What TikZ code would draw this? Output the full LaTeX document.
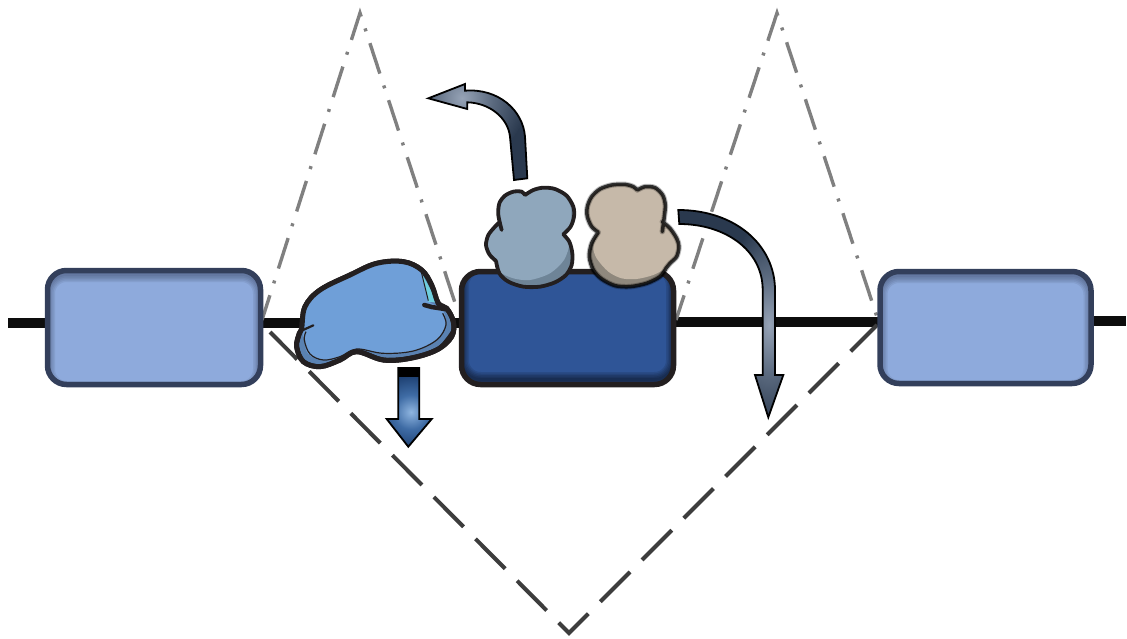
\documentclass[tikz,border=0pt]{standalone}
\usetikzlibrary{calc}
\definecolor{gbA}{HTML}{8FB5E0}
\definecolor{gbB}{HTML}{3F6CA5}
\definecolor{gbC}{HTML}{1F4274}
\definecolor{ggA}{HTML}{96A3B6}
\definecolor{ggB}{HTML}{5A697E}
\definecolor{ggC}{HTML}{2A394E}
\pgfdeclareradialshading{glowblue}{\pgfpoint{0bp}{0bp}}{color(0bp)=(gbA); color(12bp)=(gbB); color(25bp)=(gbC); color(50bp)=(gbC)}
\pgfdeclareradialshading{glowgrey}{\pgfpoint{0bp}{0bp}}{color(0bp)=(ggA); color(12bp)=(ggB); color(25bp)=(ggC); color(50bp)=(ggC)}
\definecolor{ink}{HTML}{231F20}
\definecolor{lightbox}{HTML}{8EAADC}
\definecolor{lightedge}{HTML}{333F5B}
\definecolor{darkbox}{HTML}{2F5597}
\definecolor{blobtop}{HTML}{6F9FD8}
\definecolor{blobunder}{HTML}{5A82B2}
\definecolor{cyanwedge}{HTML}{6FCFDD}
\definecolor{slate}{HTML}{8FA7BC}
\definecolor{slateunder}{HTML}{6E8497}
\definecolor{beige}{HTML}{C6B9A9}
\definecolor{beigeunder}{HTML}{8F887D}
\tikzset{
  genebox/.style n args={4}{draw=#1,fill=#2,line width=5.5pt,rounded corners=19pt,inner sep=0pt,
    minimum width=#3,minimum height=#4},
  glow/.style 2 args={path picture={
    \foreach \w in {3,6,9,12,15}{
      \draw[#1,opacity=.11,line width=\w pt,rounded corners=19pt]
        ([yshift=#2]path picture bounding box.south west) rectangle
        ([yshift=#2]path picture bounding box.north east);}}},
  strand/.style={line width=10pt,black!95},
  loopline/.style={line width=3.4pt,black!50,dash pattern=on 32pt off 12.5pt on 3pt off 12.5pt,dash phase=6pt},
  spliceline/.style={line width=4pt,black!76,dash pattern=on 42pt off 17pt,dash phase=3.4pt},
  blobline/.style={draw=ink,line width=5pt,line join=round},
  arrowline/.style={draw=black,line width=1.8pt,line join=miter}
}
\begin{document}
\begin{tikzpicture}[x=1pt,y=-1pt]
\useasboundingbox (0,0) rectangle (1127,638);
% anchor points
\coordinate (lstart) at (8,323);
\coordinate (lbe) at (262,323);
\coordinate (cbw) at (459,323);
\coordinate (cbe) at (676,322);
\coordinate (rbw) at (878,322);
\coordinate (rbe) at (1093,321);
\coordinate (rend) at (1126,321);
\coordinate (lbw) at (45,323);
\coordinate (peakA) at (360,13);
\coordinate (peakB) at (777,13);
\coordinate (vee) at (569,633);
\coordinate (a1) at (262,320);
\coordinate (a2) at (458,312);
\coordinate (b1) at (676,320);
\coordinate (b2) at (878,320);
\coordinate (v1) at (270,332);
\coordinate (v2) at (877,325);
% strand
\draw[strand] (lstart) -- (lbw);
\draw[strand] (lbe) -- (cbw);
\draw[strand] (cbe) -- (rbw);
\draw[strand] (rbe) -- (rend);
% splice lines
\draw[loopline] (a1) -- (peakA) -- (a2);
\draw[loopline] (b1) -- (peakB) -- (b2);
\draw[spliceline] (v1) -- (vee) -- (v2);
% boxes
\node[genebox={lightedge}{lightbox}{213pt}{114pt},glow={lightedge}{-4pt}] (leftbox) at (154,327.5) {};
\node[genebox={lightedge}{lightbox}{211pt}{112pt},glow={lightedge}{-4pt}] (rightbox) at (985.5,327.5) {};
\node[genebox={ink}{darkbox}{212pt}{113pt},glow={black}{5pt}] (centerbox) at (567.5,328) {};
% left blob
\begin{scope}[shift={(290,250)},x=0.3333pt,y=-0.3333pt]
\draw[blobline,fill=blobunder] plot[smooth cycle,tension=.6] coordinates {(35,235) (45,170) (90,120) (180,75) (260,40) (340,35) (395,60) (425,105) (445,160) (470,175) (490,215) (485,260) (440,300) (360,325) (280,330) (200,305) (150,330) (90,350) (40,335) (20,290) (28,250)};
\fill[blobtop] plot[smooth cycle,tension=.6] coordinates {(38,235) (48,172) (92,124) (182,79) (260,44) (338,39) (392,62) (415,150) (455,175) (467,220) (440,270) (370,305) (280,312) (200,297) (150,322) (100,332) (55,312) (42,270)};
\fill[cyanwedge] (394,68) -- (443,158) -- (415,155) -- cycle;
\draw[ink,line width=1pt] (394,66) -- (415,152);
\draw[ink,line width=1.2pt] plot[smooth,tension=.6] coordinates {(458,190) (468,225) (440,270) (370,303) (280,310) (200,297) (150,320) (100,330) (60,312) (43,270) (48,245)};
\draw[ink,line width=4.5pt,line cap=round] (403,165) -- (425,171) -- (470,178);
\draw[ink,line width=2.2pt,line cap=round] (35,242) -- (70,226);
\draw[blobline,fill=none] plot[smooth cycle,tension=.6] coordinates {(35,235) (45,170) (90,120) (180,75) (260,40) (340,35) (395,60) (425,105) (445,160) (470,175) (490,215) (485,260) (440,300) (360,325) (280,330) (200,305) (150,330) (90,350) (40,335) (20,290) (28,250)};
\draw[ink,line width=2.5pt,line cap=round] plot[smooth,tension=.6] coordinates {(486,245) (440,298) (360,323) (280,328)};
\end{scope}
% slate protein
\begin{scope}[shift={(480,175)},x=0.3333pt,y=-0.3333pt]
\path[fill=slateunder] plot[smooth] coordinates {(135,60) (160,45) (190,38) (225,42) (260,62) (280,95) (282,125) (272,155) (250,178)} -- plot[smooth] coordinates {(250,178) (268,200) (277,235) (275,270) (258,300) (225,322) (180,335) (130,335) (85,320) (58,295) (48,258)} -- plot[smooth] coordinates {(48,258) (28,238) (18,210) (25,180) (45,155) (60,140)} -- plot[smooth] coordinates {(65,165) (55,120) (58,85) (75,62) (100,50) (125,50) (135,60)} -- cycle;
\path[fill=slate] plot[smooth] coordinates {(135,60) (160,47) (190,42) (225,46) (255,66) (272,95) (274,125) (268,155) (250,178)} -- plot[smooth] coordinates {(250,178) (268,205) (252,255) (210,295) (150,315) (100,310) (58,290) (48,258)} -- plot[smooth] coordinates {(48,258) (28,238) (18,210) (25,180) (45,155) (60,140)} -- plot[smooth] coordinates {(65,165) (55,120) (58,85) (75,62) (100,50) (125,50) (135,60)} -- cycle;
\draw[draw=ink,line width=3.8pt,line cap=round] plot[smooth] coordinates {(135,60) (160,45) (190,38) (225,42) (260,62) (280,95) (282,125) (272,155) (250,178)} plot[smooth] coordinates {(250,178) (268,200) (277,235) (275,270) (258,300) (225,322) (180,335) (130,335) (85,320) (58,295) (48,258)} plot[smooth] coordinates {(48,258) (28,238) (18,210) (25,180) (45,155) (60,140)} plot[smooth] coordinates {(65,165) (55,120) (58,85) (75,62) (100,50) (125,50) (135,60)};
\end{scope}
% beige protein
\begin{scope}[shift={(480,175)},x=0.3333pt,y=-0.3333pt]
\path[fill=beigeunder] plot[smooth] coordinates {(355,172) (335,155) (322,125) (322,95) (335,65) (360,42) (395,30) (435,28) (460,35) (472,45)} -- plot[smooth] coordinates {(472,45) (495,35) (525,38) (548,60) (556,90) (553,125) (547,155)} -- plot[smooth] coordinates {(547,140) (570,160) (590,190) (597,215) (590,245) (570,265) (558,280)} -- plot[smooth] coordinates {(558,280) (540,305) (500,325) (450,335) (405,332) (365,312) (340,285) (328,245) (335,205) (355,172)} -- cycle;
\path[fill=beige] plot[smooth] coordinates {(355,172) (335,155) (322,125) (322,95) (335,65) (360,42) (395,30) (435,28) (460,35) (472,45)} -- plot[smooth] coordinates {(472,45) (495,35) (525,38) (548,60) (556,90) (553,125) (547,155)} -- plot[smooth] coordinates {(547,140) (570,160) (590,190) (597,215) (590,245) (570,265) (558,280)} -- plot[smooth] coordinates {(558,280) (520,300) (470,312) (425,310) (385,290) (350,250) (340,215) (355,172)} -- cycle;
\foreach \lw/\col/\op in {5.5pt/black/.25,3.5pt/black/.75}{
\draw[draw=\col,opacity=\op,line width=\lw,line cap=round] plot[smooth] coordinates {(355,172) (335,155) (322,125) (322,95) (335,65) (360,42) (395,30) (435,28) (460,35) (472,45)} plot[smooth] coordinates {(472,45) (495,35) (525,38) (548,60) (556,90) (553,125) (547,170)} plot[smooth] coordinates {(547,140) (570,160) (590,190) (597,215) (590,245) (570,265) (558,280)} plot[smooth] coordinates {(558,280) (540,305) (500,325) (450,335) (405,332) (365,312) (340,285) (328,245) (335,205) (355,172)};
}
\end{scope}
% down arrow
\begin{scope}
\clip (398.3,368) -- (419.3,368) -- (419.3,419) -- (431.7,419) -- (408.3,446.7) -- (386.7,419) -- (398.3,419) -- cycle;
\fill[gbC] (380,360) rectangle (440,450);
\shade[shading=glowblue] (411,412) circle (36);
\end{scope}
\draw[arrowline] (398.3,368) -- (419.3,368) -- (419.3,419) -- (431.7,419) -- (408.3,446.7) -- (386.7,419) -- (398.3,419) -- cycle;
\fill[black] (397.5,367) rectangle (420,377);
% upper-left arrow
\begin{scope}
\clip (465,90.7) .. controls (498,88) and (523,110) .. (525,136.7) -- (527.3,178.3) -- (514,180) -- (510,136.7) .. controls (508,118) and (490,103) .. (467.3,102.3) -- (467.3,109) -- (428.3,98.3) -- (465,84) -- cycle;
\fill[ggC] (420,80) rectangle (535,185);
\shade[shading=glowgrey] (462,98) circle (65);
\end{scope}
\draw[arrowline] (465,90.7) .. controls (498,88) and (523,110) .. (525,136.7) -- (527.3,178.3) -- (514,180) -- (510,136.7) .. controls (508,118) and (490,103) .. (467.3,102.3) -- (467.3,109) -- (428.3,98.3) -- (465,84) -- cycle;
% long arrow
\begin{scope}
\clip (678.3,210) .. controls (735,210) and (775,245) .. (775,290) -- (775,375) -- (783.3,375) -- (768.3,417.3) -- (755,375) -- (762.7,375) -- (762.7,290) .. controls (762.7,250) and (725,224) .. (679.3,224) -- cycle;
\fill[ggC] (670,200) rectangle (790,425);
\begin{scope}[shift={(769,325)},xscale=.6,yscale=1.3]
\shade[shading=glowgrey] (0,0) circle (80);
\end{scope}
\end{scope}
\draw[arrowline] (678.3,210) .. controls (735,210) and (775,245) .. (775,290) -- (775,375) -- (783.3,375) -- (768.3,417.3) -- (755,375) -- (762.7,375) -- (762.7,290) .. controls (762.7,250) and (725,224) .. (679.3,224) -- cycle;
\end{tikzpicture}
\end{document}
